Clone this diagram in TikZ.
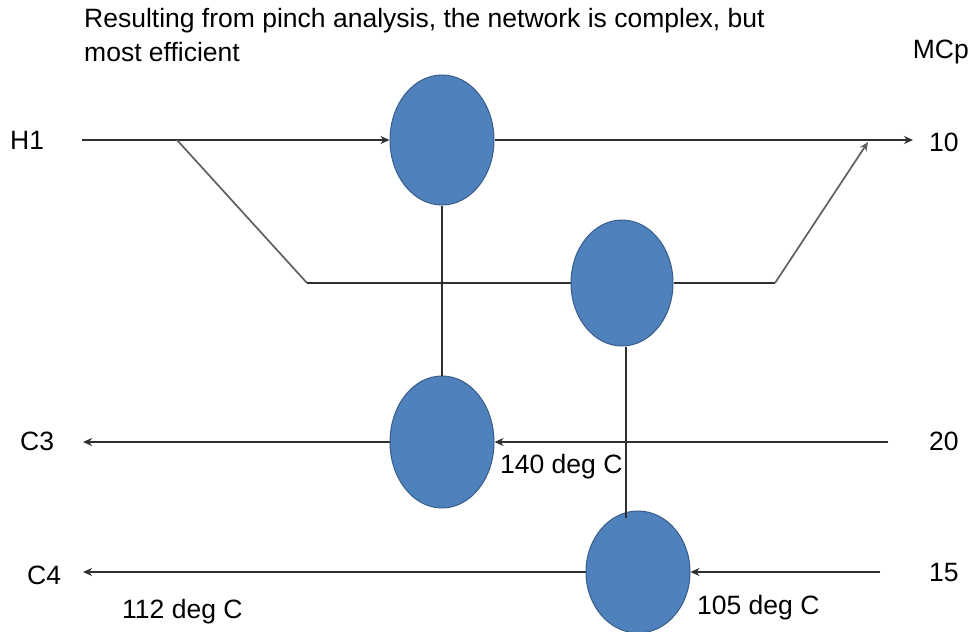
\documentclass[tikz,border=0pt]{standalone}
\usepackage{fontspec}
\setmainfont{Liberation Sans}
\usetikzlibrary{arrows.meta,shapes.geometric}
\definecolor{hxfill}{HTML}{4F81BD}
\definecolor{hxline}{HTML}{385D8A}
\definecolor{strm}{HTML}{303030}
\definecolor{split}{HTML}{606060}
\begin{document}
\begin{tikzpicture}[x=1pt,y=-1pt,
  hx/.style={ellipse,draw=hxline,line width=1pt,fill=hxfill,minimum width=104pt,minimum height=130pt,inner sep=0pt},
  stream/.style={draw=strm,line width=1.9pt},
  splitln/.style={draw=split,line width=1.7pt},
  arr/.style={-{Stealth[length=9pt,width=8pt]}},
  lbl/.style={font=\fontsize{26.5}{30}\selectfont,inner sep=0pt}]
\useasboundingbox (0,0) rectangle (970,632);
% title
\node[lbl,anchor=west] (title1) at (84,21)
  {Resulting from pinch analysis, the network is complex, but};
\node[lbl,anchor=west] (title2) at (84,52) {most efficient};
\node[lbl,anchor=east] (mcp) at (969,52) {MCp};
% exchangers
\node[hx] (e1) at (442,140) {};
\node[hx,minimum height=126pt,minimum width=102pt] (e2) at (622,283) {};
\node[hx,minimum height=132pt] (e3) at (442,442) {};
\node[hx,minimum height=122pt,minimum width=104pt] (e4) at (638,572) {};
% labels
\node[lbl,anchor=west] (h1) at (10,140) {H1};
\node[lbl,anchor=west] (c3) at (20,441) {C3};
\node[lbl,anchor=west] (c4) at (27,575) {C4};
\node[lbl,anchor=west] (m10) at (929,142) {10};
\node[lbl,anchor=west] (m20) at (929,441) {20};
\node[lbl,anchor=west] (m15) at (929,573) {15};
\node[lbl,anchor=west] (t140) at (500,467) {140 deg C};
\node[lbl,anchor=west] (t105) at (697,608) {105 deg C};
\node[lbl,anchor=west] (t112) at (122,612) {112 deg C};
% coordinates
\coordinate (h1s) at (82,140);
\coordinate (h1e) at (913,140);
\coordinate (sp) at (177,140);
\coordinate (d1) at (307,283);
\coordinate (d2) at (775,283);
\coordinate (jn) at (868,142);
\coordinate (c3s) at (888,442);
\coordinate (c3e) at (83,442);
\coordinate (c4s) at (880,572);
\coordinate (c4e) at (83,572);
\coordinate (v2) at (626,518);
% H1 stream
\draw[stream,arr] (h1s) -- (e1.west);
\draw[stream,arr] (e1.east) -- (h1e);
\draw[splitln] (sp) -- (d1);
\draw[stream] (d1) -- (e2.west);
\draw[stream] (e2.east) -- (d2);
\draw[splitln,arr] (d2) -- (jn);
% C3 stream
\draw[stream,arr] (c3s) -- (e3.east);
\draw[stream,arr] (e3.west) -- (c3e);
% C4 stream
\draw[stream,arr] (c4s) -- (e4.east);
\draw[stream,arr] (e4.west) -- (c4e);
% matches
\draw[stream] (e1.south) -- (e3.north);
\draw[stream] ([xshift=4pt]e2.south) -- (v2);
\end{tikzpicture}
\end{document}
